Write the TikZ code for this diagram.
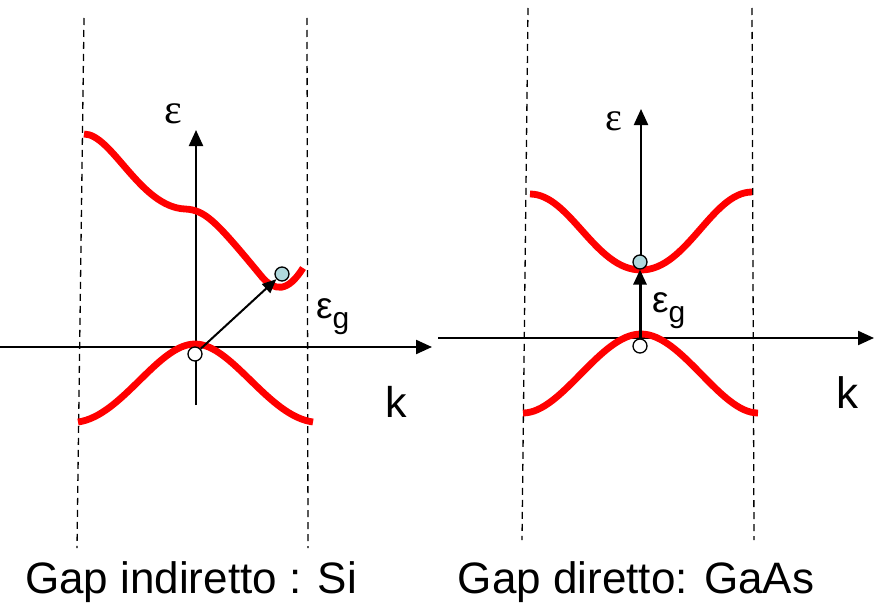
\documentclass[tikz,border=0pt]{standalone}
\usepackage{fontspec}
\setmainfont{Liberation Sans}
\newfontfamily\greekserif{Liberation Serif}
\usetikzlibrary{arrows.meta}
\definecolor{bandred}{RGB}{255,0,0}
\definecolor{electron}{RGB}{176,216,220}
\newcommand{\fs}[1]{\fontsize{#1}{#1}\selectfont}
\newcommand{\epsg}{\fs{37}ε\raisebox{-10pt}{\fs{30}g}}
\tikzset{
  band/.style={bandred,line width=6.8pt},
  zone/.style={line width=1.3pt,dash pattern=on 7pt off 5pt},
  axis/.style={line width=2.2pt,-{Triangle[length=16pt,width=14pt]}},
  carrier/.style={circle,draw,line width=1.3pt,minimum size=14pt,inner sep=0pt},
  lbl/.style={inner sep=0pt,anchor=base west},
}

\begin{document}
\begin{tikzpicture}[x=1pt,y=-1pt]
\useasboundingbox (0,0) rectangle (874,602);
% Brillouin zone edges
\draw[zone] (84,18) -- (77,548);
\draw[zone] (307,18) -- (308,548);
\draw[zone] (528,8) -- (522,540);
\draw[zone] (752,8) -- (754,540);
% axes
\coordinate (kL0) at (0,347);
\coordinate (kL1) at (432,347);
\coordinate (eL0) at (196,405);
\coordinate (eL1) at (196,130);
\coordinate (kR0) at (438,338);
\coordinate (kR1) at (874,338);
\coordinate (eR0) at (641,338);
\coordinate (eR1) at (641,109);
\draw[axis] (kL0) -- (kL1);
\draw[axis] (eL0) -- (eL1);
\draw[axis] (kR0) -- (kR1);
\draw[axis] (eR0) -- (eR1);
% bands, Si
\draw[band] (84,134) .. controls (112,134) and (140,207) .. (185,209)
  .. controls (205,210) and (215,220) .. (262,277)
  .. controls (275,292) and (288,292) .. (303,268);
\draw[band] (78,422) .. controls (122,416) and (158,344) .. (195,344)
  .. controls (232,344) and (268,416) .. (313,422);
% bands, GaAs
\draw[band] (530,194) .. controls (570,194) and (595,270) .. (641,270)
  .. controls (687,270) and (712,192) .. (752,192);
\draw[band] (523,413) .. controls (562,413) and (600,334) .. (641,334)
  .. controls (682,334) and (720,413) .. (758,413);
% carriers
\node[carrier,fill=white] (vL) at (195,354) {};
\node[carrier,fill=electron] (cL) at (282,274) {};
\node[carrier,fill=white] (vR) at (640,346) {};
\node[carrier,fill=electron] (cR) at (640,262) {};
\draw[line width=2pt,-{Triangle[length=14pt,width=12pt]}] (vL) -- (cL);
\draw[line width=3pt,-{Triangle[length=15pt,width=13pt]}] (vR) -- (cR);
% labels
\node[lbl] (epsL) at (164,123) {\greekserif\fs{42}ε};
\node[lbl] (epsR) at (605,130) {\greekserif\fs{40}ε};
\node[lbl] (gapL) at (316,318) {\epsg};
\node[lbl] (gapR) at (652,312) {\epsg};
\node[lbl] (kL) at (385,417) {\fs{43}k};
\node[lbl] (kR) at (836,408) {\fs{44}k};
\node[inner sep=0pt,anchor=base] (titleL) at (191,593) {\fs{44}Gap indiretto : Si};
\node[inner sep=0pt,anchor=base] (titleR) at (636,593) {\fs{44}Gap diretto: GaAs};
\end{tikzpicture}
\end{document}
